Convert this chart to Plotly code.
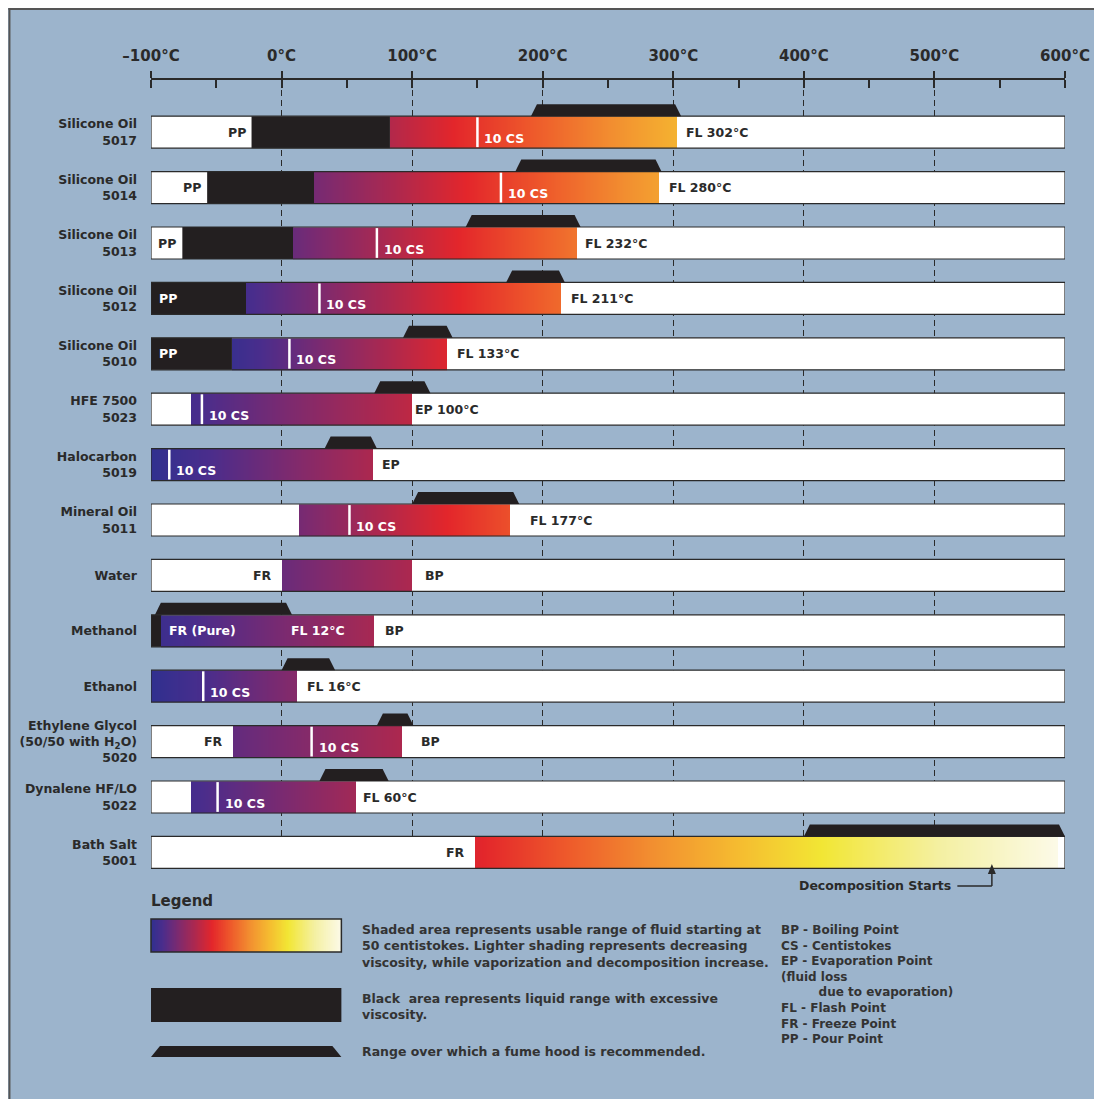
import numpy as np
import plotly.graph_objects as go

# ---------------- data (temperatures in °C) ----------------
fluids = ["Silicone Oil<br>5017", "Silicone Oil<br>5014", "Silicone Oil<br>5013",
          "Silicone Oil<br>5012", "Silicone Oil<br>5010", "HFE 7500<br>5023",
          "Halocarbon<br>5019", "Mineral Oil<br>5011", "Water", "Methanol", "Ethanol",
          "Ethylene Glycol<br>(50/50 with H<sub>2</sub>O)<br>5020",
          "Dynalene HF/LO<br>5022", "Bath Salt<br>5001"]
black_start = [-23, -57, -76, -100, -100, None, None, None, None, -100, None, None, None, None]
black_end = [83, 25, 9, -27, -38, None, None, None, None, -92, None, None, None, None]
usable_start = [83, 25, 9, -27, -38, -69, -100, 13, 0, -92, -100, -37, -69, 148]
usable_end = [303, 289, 226, 214, 127, 100, 70, 175, 100, 71, 12, 92, 57, 595]
shade_start = [0.24, 0.13, 0.11, 0.05, 0.02, 0.05, 0.0, 0.13, 0.11, 0.03, 0.0, 0.10, 0.05, 0.31]
shade_end = [0.60, 0.56, 0.47, 0.45, 0.31, 0.26, 0.23, 0.40, 0.23, 0.22, 0.16, 0.23, 0.21, 1.0]
cs10_point = [150, 168, 73, 29, 6, -61, -86, 52, None, None, -60, 23, -49, None]
hood_start = [191, 179, 141, 172, 93, 71, 33, 100, None, -97, 0, 73, 29, 400]
hood_end = [306, 291, 229, 217, 131, 114, 73, 182, None, 8, 41, 101, 82, 600]
start_label = ["PP", "PP", "PP", "PP", "PP", "", "", "", "FR", "FR (Pure)", "", "FR", "", "FR"]
end_label = ["FL 302°C", "FL 280°C", "FL 232°C", "FL 211°C", "FL 133°C", "EP 100°C", "EP",
             "FL 177°C", "BP", "BP", "FL 16°C", "BP", "FL 60°C", ""]
end_label_at = [308, 295, 231, 220, 133, 101, 75, 189, 108, 78, 18, 105, 61, None]
mid_label = ["", "", "", "", "", "", "", "", "", "FL 12°C", "", "", "", ""]
mid_label_at = [None, None, None, None, None, None, None, None, None, 6, None, None, None, None]
decomposition_point = 544
x_ticks = [-100, 0, 100, 200, 300, 400, 500, 600]
x_tick_labels = ["–100°C", "0°C", "100°C", "200°C", "300°C", "400°C", "500°C", "600°C"]

legend_texts = [
    "Shaded area represents usable range of fluid starting at<br>50 centistokes. Lighter shading represents decreasing<br>viscosity, while vaporization and decomposition increase.",
    "Black  area represents liquid range with excessive<br>viscosity.",
    "Range over which a fume hood is recommended.",
]
abbreviations = ["BP - Boiling Point", "CS - Centistokes", "EP - Evaporation Point",
                 "(fluid loss", "\u00a0" * 9 + "due to evaporation)", "FL - Flash Point",
                 "FR - Freeze Point", "PP - Pour Point"]

# ---------------- style / layout ----------------
PANEL = "#9cb4cc"
DARK = "#2a2a2a"
BLACK = "#231f20"
FONT = "DejaVu Sans"
colorscale = [[0.0, "#30308f"], [0.06, "#4a2d8c"], [0.14, "#7b2a70"], [0.24, "#b2284b"],
              [0.32, "#e3262b"], [0.42, "#ee5a2b"], [0.52, "#f28f30"], [0.62, "#f5bb30"],
              [0.72, "#f2e634"], [0.86, "#f4f0a2"], [1.0, "#fcfae8"]]

OFF = 8                      # page body margin offset
W = H = 1102 - OFF
ML, MR, MT, MB = 151 - OFF, 34, 80 - OFF, 30
PW, PH = W - ML - MR, H - MT - MB
T_MIN, T_MAX = x_ticks[0], x_ticks[-1]
PX_PER_DEG = PW / (T_MAX - T_MIN)
PAPER_BOTTOM = 1102 - MB


def pxx(px):  # reference pixel x -> paper x
    return (px - 151) / PW


def pxy(py):  # reference pixel y -> paper y
    return (PAPER_BOTTOM - py) / PH


def tx(t):  # temperature -> paper x
    return (t - T_MIN) / (T_MAX - T_MIN)


PLOT_BOTTOM = 870
ROW0 = 132.2
PITCH = 55.4
HALF = 16 / PITCH
HOOD_H = 12 / PITCH
SLANT = 6 / PX_PER_DEG

n = len(fluids)
rows = list(range(n))

fig = go.Figure()

# white full-range bars
fig.add_trace(go.Bar(y=rows, x=[T_MAX - T_MIN] * n, base=[T_MIN] * n, orientation="h",
                     width=2 * HALF, marker=dict(color="white", line=dict(width=0)),
                     hoverinfo="skip", showlegend=False))
# black (excessive viscosity) segments
bi = [i for i in rows if black_start[i] is not None]
fig.add_trace(go.Bar(y=bi, x=[black_end[i] - black_start[i] for i in bi],
                     base=[black_start[i] for i in bi], orientation="h", width=2 * HALF,
                     marker=dict(color=BLACK, line=dict(width=0)),
                     hoverinfo="skip", showlegend=False))

# gradient (usable range) as heatmap on an overlaying axis pair so it sits above the bars
step = 0.5
xe = np.arange(T_MIN, T_MAX + step, step)
xc = (xe[:-1] + xe[1:]) / 2
ye, zz = [], []
for i in rows:
    ye += [i - HALF, i + HALF]
    r = [None] * len(xc)
    for k, c in enumerate(xc):
        if usable_start[i] <= c <= usable_end[i]:
            r[k] = shade_start[i] + (shade_end[i] - shade_start[i]) * (c - usable_start[i]) / (usable_end[i] - usable_start[i])
    zz.append(r)
    if i < n - 1:
        zz.append([None] * len(xc))
fig.add_trace(go.Heatmap(x=xe.tolist(), y=ye, z=zz, colorscale=colorscale, zmin=0, zmax=1,
                         showscale=False, hoverinfo="skip", xaxis="x3", yaxis="y3"))

# outlines on top
fig.add_trace(go.Bar(y=rows, x=[T_MAX - T_MIN] * n, base=[T_MIN] * n, orientation="h",
                     width=2 * HALF, marker=dict(color="rgba(0,0,0,0)", line=dict(width=1.2, color=DARK)),
                     hoverinfo="skip", showlegend=False, xaxis="x3", yaxis="y3"))

# legend gradient swatch
lv = np.linspace(0, 1, 300).tolist()
fig.add_trace(go.Heatmap(z=[lv], x=lv, y=[0], colorscale=colorscale, zmin=0, zmax=1,
                         showscale=False, hoverinfo="skip", xaxis="x2", yaxis="y2"))

shapes = []
annotations = []

# panel border lines and white strip at the bottom
shapes.append(dict(type="rect", xref="paper", yref="paper", x0=pxx(-20), x1=pxx(1120),
                   y0=pxy(1120), y1=pxy(1099), fillcolor="white", line=dict(width=0), layer="above"))
shapes.append(dict(type="line", xref="paper", yref="paper", x0=pxx(8), x1=pxx(1120),
                   y0=pxy(9), y1=pxy(9), line=dict(color="#555", width=2)))
shapes.append(dict(type="line", xref="paper", yref="paper", x0=pxx(9), x1=pxx(9),
                   y0=pxy(8), y1=pxy(1099), line=dict(color="#555", width=2)))

# 10 cS markers and labels
for i in rows:
    if cs10_point[i] is not None:
        shapes.append(dict(type="line", xref="x", yref="y", x0=cs10_point[i], x1=cs10_point[i],
                           y0=i - HALF + 0.02, y1=i + HALF - 0.02, line=dict(color="white", width=2.5)))
        annotations.append(dict(x=cs10_point[i], y=i, xref="x", yref="y", text="10 CS",
                                xanchor="left", yanchor="middle", xshift=5, yshift=-6, showarrow=False,
                                font=dict(color="white", size=12.5, family=FONT, weight="bold")))

# fume hood trapezoids
for i in rows:
    if hood_start[i] is None:
        continue
    yb = i - HALF
    yt = yb - HOOD_H
    a, b = hood_start[i], hood_end[i]
    shapes.append(dict(type="path", xref="x", yref="y",
                       path=f"M {a},{yb} L {a + SLANT},{yt} L {b - SLANT},{yt} L {b},{yb} Z",
                       fillcolor=BLACK, line=dict(width=0)))

# start labels (PP / FR)
for i in rows:
    lab = start_label[i]
    if not lab:
        continue
    anchor = black_start[i] if lab == "PP" else usable_start[i]
    if black_start[i] is not None and black_start[i] <= T_MIN:
        annotations.append(dict(x=anchor, y=i, xref="x", yref="y", text=lab, xanchor="left",
                                xshift=6, showarrow=False,
                                font=dict(color="white", size=12.5, family=FONT, weight="bold")))
    else:
        annotations.append(dict(x=anchor, y=i, xref="x", yref="y", text=lab, xanchor="right",
                                xshift=-4 if lab == "PP" else -8, showarrow=False,
                                font=dict(color=DARK, size=12.5, family=FONT, weight="bold")))

# end labels
for i in rows:
    if end_label[i]:
        annotations.append(dict(x=end_label_at[i], y=i, xref="x", yref="y", text=end_label[i],
                                xanchor="left", showarrow=False,
                                font=dict(color=DARK, size=12.5, family=FONT, weight="bold")))
    if mid_label[i]:
        annotations.append(dict(x=mid_label_at[i], y=i, xref="x", yref="y", text=mid_label[i],
                                xanchor="left", showarrow=False,
                                font=dict(color="white", size=12.5, family=FONT, weight="bold")))

# decomposition starts (line + arrow)
arrow_y = 886
dx = tx(decomposition_point)
shapes.append(dict(type="line", xref="paper", yref="paper", x0=pxx(960), x1=dx,
                   y0=pxy(arrow_y), y1=pxy(arrow_y), line=dict(color=DARK, width=1.5)))
shapes.append(dict(type="line", xref="paper", yref="paper", x0=dx, x1=dx,
                   y0=pxy(arrow_y), y1=pxy(872), line=dict(color=DARK, width=1.5)))
shapes.append(dict(type="path", xref="paper", yref="paper",
                   path=f"M {dx - 4 / PW},{pxy(874)} L {dx},{pxy(864)} L {dx + 4 / PW},{pxy(874)} Z",
                   fillcolor=DARK, line=dict(width=0)))
annotations.append(dict(x=pxx(956), y=pxy(arrow_y - 1), xref="paper", yref="paper",
                        text="Decomposition Starts", xanchor="right", yanchor="middle", showarrow=False,
                        font=dict(color=DARK, size=12.5, family=FONT, weight="bold")))

# legend block
annotations.append(dict(x=pxx(149), y=pxy(901), xref="paper", yref="paper", text="Legend",
                        xanchor="left", yanchor="middle", showarrow=False,
                        font=dict(color=DARK, size=15, family=FONT, weight="bold")))
shapes.append(dict(type="rect", xref="paper", yref="paper", x0=pxx(151), x1=pxx(342),
                   y0=pxy(952), y1=pxy(919), line=dict(color=DARK, width=1.5)))
shapes.append(dict(type="rect", xref="paper", yref="paper", x0=pxx(151), x1=pxx(342),
                   y0=pxy(1022), y1=pxy(988), fillcolor=BLACK, line=dict(width=0)))
shapes.append(dict(type="path", xref="paper", yref="paper",
                   path=(f"M {pxx(151)},{pxy(1057)} L {pxx(160)},{pxy(1046)} "
                         f"L {pxx(333)},{pxy(1046)} L {pxx(342)},{pxy(1057)} Z"),
                   fillcolor=BLACK, line=dict(width=0)))
for txt, ytop in zip(legend_texts, [920, 989, 1042]):
    annotations.append(dict(x=pxx(361), y=pxy(ytop), xref="paper", yref="paper", text=txt,
                            xanchor="left", yanchor="top", align="left", showarrow=False,
                            font=dict(color="#333", size=12.5, family=FONT, weight="bold")))
annotations.append(dict(x=pxx(781), y=pxy(921), xref="paper", yref="paper",
                        text="<br>".join(abbreviations), xanchor="left", yanchor="top",
                        align="left", showarrow=False,
                        font=dict(color="#333", size=12, family=FONT, weight="bold")))

y_range = [(PLOT_BOTTOM - ROW0) / PITCH, (80 - ROW0) / PITCH]
fig.update_layout(
    width=W, height=H,
    margin=dict(l=ML, r=MR, t=MT, b=MB, pad=0),
    paper_bgcolor=PANEL, plot_bgcolor=PANEL,
    barmode="overlay", showlegend=False,
    font=dict(family=FONT, color=DARK),
    shapes=shapes, annotations=annotations,
    xaxis=dict(range=[T_MIN, T_MAX], domain=[0, 1], side="top", tickvals=x_ticks,
               ticktext=x_tick_labels, ticks="outside", ticklen=7, tickwidth=1.5, tickcolor=DARK,
               showline=True, linecolor=DARK, linewidth=1.5, zeroline=False,
               showgrid=True, gridcolor=DARK, gridwidth=1, griddash="6px,4px",
               ticklabelstandoff=4,
               tickfont=dict(size=15, color=DARK, family=FONT, weight="bold"),
               minor=dict(dtick=50, tick0=0, ticks="inside", ticklen=8, tickwidth=1.5,
                          tickcolor=DARK, showgrid=False)),
    yaxis=dict(range=y_range, domain=[pxy(PLOT_BOTTOM), 1], tickvals=rows, ticktext=fluids, ticks="",
               showgrid=False, zeroline=False, showline=False, ticklabelstandoff=13,
               tickfont=dict(size=12.5, color=DARK, family=FONT, weight="bold")),
    xaxis3=dict(overlaying="x", range=[T_MIN, T_MAX], visible=False, showgrid=False, zeroline=False),
    yaxis3=dict(overlaying="y", range=y_range, visible=False, showgrid=False, zeroline=False),
    xaxis2=dict(domain=[pxx(151), pxx(342)], anchor="y2", range=[0, 1], visible=False),
    yaxis2=dict(domain=[pxy(952), pxy(919)], anchor="x2", range=[-0.5, 0.5], visible=False),
)

fig.write_html("out.html")
